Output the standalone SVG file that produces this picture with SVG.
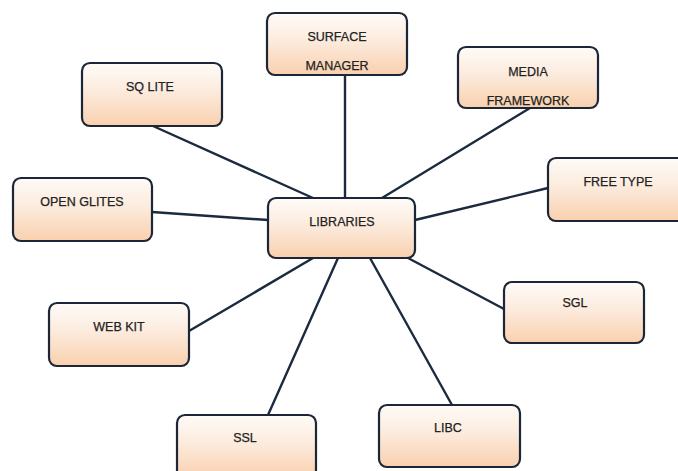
<svg xmlns="http://www.w3.org/2000/svg" width="678" height="471" viewBox="0 0 678 471">
<defs>
<linearGradient id="g" x1="0" y1="0" x2="0" y2="1">
<stop offset="0" stop-color="#fefbf8"/>
<stop offset="0.45" stop-color="#fcebdd"/>
<stop offset="1" stop-color="#f9d0ae"/>
</linearGradient>
<style>
.box{fill:url(#g);stroke:#1c2636;stroke-width:2.2}
.t{font-family:"Liberation Sans",Arial,sans-serif;font-size:12.5px;fill:#222222;stroke:#222222;stroke-width:0.25;text-anchor:middle;dominant-baseline:central}
.c line{stroke:#1c2a40;stroke-width:2.4;stroke-linecap:round}
</style>
</defs>
<rect width="678" height="471" fill="#ffffff"/>
<g class="c" id="connectors">
<line x1="153" y1="126" x2="313" y2="198"/>
<line x1="345" y1="76" x2="345" y2="198"/>
<line x1="530" y1="108" x2="382" y2="198"/>
<line x1="548" y1="188" x2="415" y2="220"/>
<line x1="152" y1="212" x2="268" y2="220"/>
<line x1="313" y1="258" x2="189" y2="331"/>
<line x1="338" y1="258" x2="268" y2="415"/>
<line x1="370" y1="258" x2="452" y2="405"/>
<line x1="408" y1="258" x2="504" y2="309"/>
</g>
<g id="surface-manager"><rect class="box" x="267" y="13" width="140" height="62" rx="8"/><text class="t" x="337" y="37">SURFACE</text><text class="t" x="337" y="66">MANAGER</text></g>
<g id="media-framework"><rect class="box" x="458" y="47" width="140" height="61" rx="8"/><text class="t" x="528" y="72">MEDIA</text><text class="t" x="528" y="101">FRAMEWORK</text></g>
<g id="sq-lite"><rect class="box" x="82" y="63" width="140" height="63" rx="8"/><text class="t" x="150" y="87">SQ LITE</text></g>
<g id="free-type"><rect class="box" x="548" y="158" width="140" height="63" rx="8"/><text class="t" x="618" y="182">FREE TYPE</text></g>
<g id="open-glites"><rect class="box" x="13" y="178" width="139" height="63" rx="8"/><text class="t" x="82" y="202">OPEN GLITES</text></g>
<g id="libraries"><rect class="box" x="268" y="198" width="147" height="60" rx="8"/><text class="t" x="342" y="222">LIBRARIES</text></g>
<g id="web-kit"><rect class="box" x="49" y="303" width="140" height="63" rx="8"/><text class="t" x="119" y="327">WEB KIT</text></g>
<g id="sgl"><rect class="box" x="504" y="282" width="140" height="61" rx="8"/><text class="t" x="575" y="303">SGL</text></g>
<g id="ssl"><rect class="box" x="177" y="415" width="139" height="63" rx="8"/><text class="t" x="245" y="438">SSL</text></g>
<g id="libc"><rect class="box" x="379" y="405" width="141" height="62" rx="8"/><text class="t" x="448" y="428">LIBC</text></g>
</svg>
